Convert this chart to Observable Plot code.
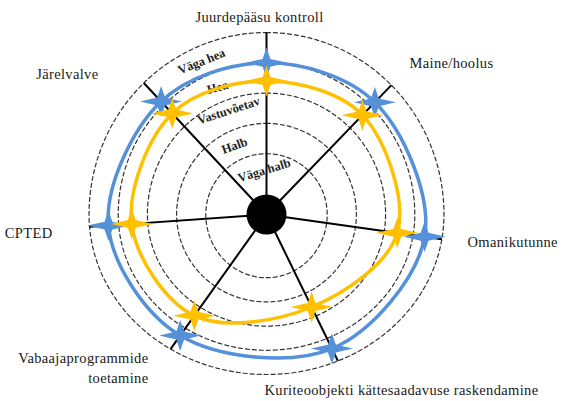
<!DOCTYPE html>
<html><head><meta charset="utf-8">
<script src="https://cdn.jsdelivr.net/npm/d3@7"></script>
<script src="https://cdn.jsdelivr.net/npm/@observablehq/plot@0.6"></script>
<style>body{margin:0;background:#fff} svg{display:block} .cat text, text.cat{letter-spacing:0.35px}</style>
</head><body><div id="chart"></div>
<script>
// ---- data ----
const categories = ["Juurdepääsu kontroll","Maine/hoolus","Omanikutunne","Kuriteoobjekti kättesaadavuse raskendamine","Vabaajaprogrammide toetamine","CPTED","Järelvalve"];
const categoryLabels = ["Juurdepääsu kontroll","Maine/hoolus","Omanikutunne","Kuriteoobjekti kättesaadavuse raskendamine","Vabaajaprogrammide\ntoetamine","CPTED","Järelvalve"];
const seriesBlue = [4.0, 4.2, 4.4, 4.45, 4.35, 4.35, 4.15];
const seriesYellow = [3.4, 3.6, 3.45, 2.6, 3.4, 3.55, 3.6];
const levelLabels = ["Väga halb","Halb","Vastuvõetav","Hea","Väga hea"];
const levelTicks = [1,2,3,4,5];

// ---- layout ----
const W = 563, H = 401;
const spokeAngle = [0, 44, 98, 154, 215.5, 266, 317];   // degrees clockwise from up
const ax = t => 31.5 + 29.2 * t;   // horizontal radius of level t
const ay = t => 30.5 + 30.3 * t;   // upward radius
const ab = t => 39 + 24.2 * t;     // downward radius
function R(t, deg) {
  const a = deg * Math.PI / 180, s = Math.sin(a), c = Math.cos(a);
  const ry = c >= 0 ? ay(t) : ab(t), rx = ax(t);
  return 1 / Math.sqrt(s * s / (rx * rx) + c * c / (ry * ry));
}
function pt(t, deg) { const r = R(t, deg), a = deg * Math.PI / 180; return {x: r * Math.sin(a), y: r * Math.cos(a)}; }

const rings = levelTicks.flatMap(t => d3.range(0, 361, 2).map(d => ({t, ...pt(t, d)})));
const spokes = spokeAngle.map(a => ({x1: 0, y1: 0, x2: pt(5, a).x, y2: pt(5, a).y}));
const blue = seriesBlue.map((v, i) => ({cat: categories[i], v, ...pt(v, spokeAngle[i])}));
const yellow = seriesYellow.map((v, i) => ({cat: categories[i], v, ...pt(v, spokeAngle[i])}));

const bandPos = [[0.45, -3, -17], [1.5, -25, -20], [2.65, -20, -18], [3.5, -21, -15], [4.5, -23, -22]];
const bands = levelLabels.map((s, i) => ({text: s, rot: bandPos[i][2], ...pt(bandPos[i][0], bandPos[i][1])}));

const labelPos = [[-7, 197, "middle"], [143, 151, "start"], [201, -28, "start"], [-2, -176, "start"], [-118, -152, "end"], [-214, -17, "end"], [-168, 142, "end"]];
const labels = categoryLabels.map((s, i) => ({text: s, x: labelPos[i][0], y: labelPos[i][1], anchor: labelPos[i][2]}));

const star = {
  draw(ctx, size) {
    const r = Math.sqrt(size / Math.PI);
    const w = 1.5 * r, h = 1.1 * r, k = 0.28 * r;
    ctx.moveTo(w, 0); ctx.lineTo(k, -k); ctx.lineTo(0, -h); ctx.lineTo(-k, -k);
    ctx.lineTo(-w, 0); ctx.lineTo(-k, k); ctx.lineTo(0, h); ctx.lineTo(k, k); ctx.closePath();
  }
};

const BLUE = "#5591d9", GOLD = "#ffc000";
const font = "'Liberation Serif','Times New Roman',serif";

const chart = Plot.plot({
  width: W, height: H, margin: 0,
  x: {domain: [-266, W - 266], axis: null},
  y: {domain: [214 - H, 214], axis: null},
  style: {background: "#fff", fontFamily: font},
  marks: [
    Plot.line(rings, {x: "x", y: "y", z: "t", stroke: "#333", strokeWidth: 1.2, strokeDasharray: "4,3"}),
    Plot.link(spokes, {x1: "x1", y1: "y1", x2: "x2", y2: "y2", stroke: "#000", strokeWidth: 2}),
    Plot.text(bands, {x: "x", y: "y", text: "text", rotate: "rot", fontSize: 12.5, fontWeight: "bold", fill: "#222", fontFamily: font}),
    Plot.line(blue, {x: "x", y: "y", curve: "catmull-rom-closed", stroke: BLUE, strokeWidth: 3.5}),
    Plot.line(yellow, {x: "x", y: "y", curve: "catmull-rom-closed", stroke: GOLD, strokeWidth: 3.5}),
    Plot.dot(blue, {x: "x", y: "y", r: 14, symbol: star, fill: BLUE, stroke: "none"}),
    Plot.dot(yellow, {x: "x", y: "y", r: 14, symbol: star, fill: GOLD, stroke: "none"}),
    Plot.dot([{x: 0, y: 0}], {x: "x", y: "y", r: 20, fill: "#000"}),
    Plot.text(labels.filter(d => d.anchor === "middle"), {x: "x", y: "y", text: "text", textAnchor: "middle", fontSize: 14.5, fill: "#1a1a1a", fontFamily: font, className: "cat"}),
    Plot.text(labels.filter(d => d.anchor === "start"), {x: "x", y: "y", text: "text", textAnchor: "start", fontSize: 14.5, fill: "#1a1a1a", fontFamily: font, className: "cat"}),
    Plot.text(labels.filter(d => d.anchor === "end"), {x: "x", y: "y", text: "text", textAnchor: "end", fontSize: 14.5, lineHeight: 1.4, fill: "#1a1a1a", fontFamily: font, className: "cat"})
  ]
});
document.getElementById("chart").append(chart);
</script>
</body></html>
